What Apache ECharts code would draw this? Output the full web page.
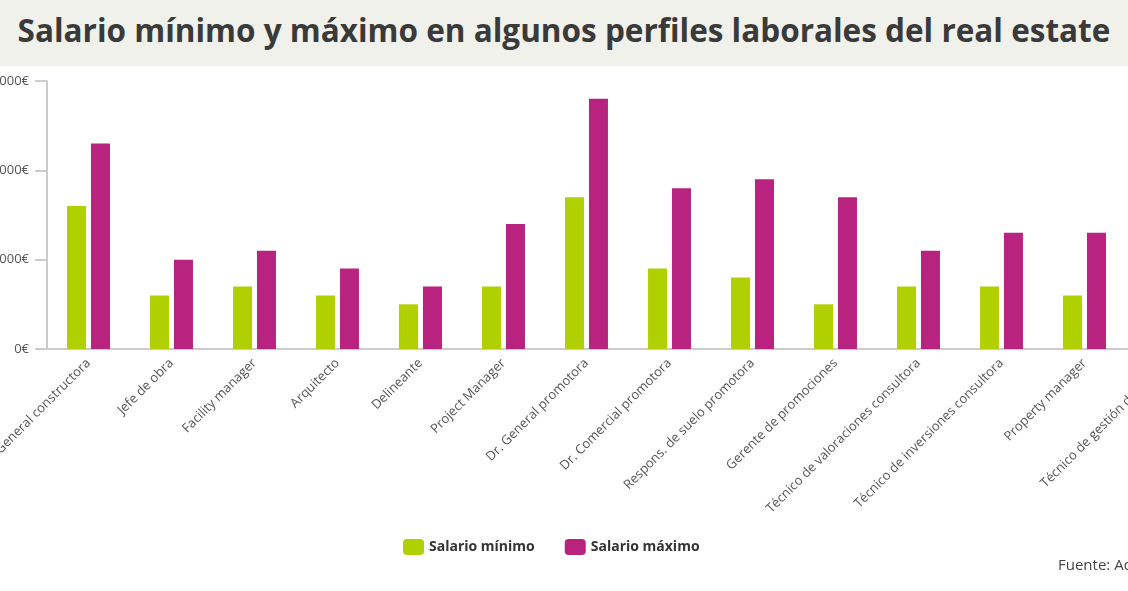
<!DOCTYPE html>
<html>
<head>
<meta charset="utf-8">
<script src="https://cdn.jsdelivr.net/npm/echarts@6/dist/echarts.min.js"></script>
<style>
  body { margin: 0; width: 1128px; height: 591px; overflow: hidden; background: #fff; font-family: "Open Sans", sans-serif; }
  .band { position: absolute; left: 0; top: 0; width: 1128px; height: 66px; background: #f1f1ec;
          font: bold 31.5px "Open Sans", sans-serif; color: #3a3a3a; text-align: center; line-height: 60px; white-space: nowrap; }
  #chart { position: absolute; left: 0; top: 0; width: 1300px; height: 591px; }
</style>
</head>
<body>
<div id="chart"></div>
<div class="band">Salario mínimo y máximo en algunos perfiles laborales del real estate</div>
<script>
// datos
const perfiles = ['Dr. General constructora', 'Jefe de obra', 'Facility manager', 'Arquitecto', 'Delineante',
  'Project Manager', 'Dr. General promotora', 'Dr. Comercial promotora', 'Respons. de suelo promotora',
  'Gerente de promociones', 'Técnico de valoraciones consultora', 'Técnico de inversiones consultora',
  'Property manager', 'Técnico de gestión de activos'];
const salarioMin = [80000, 30000, 35000, 30000, 25000, 35000, 85000, 45000, 40000, 25000, 35000, 35000, 30000, 35000];
const salarioMax = [115000, 50000, 55000, 45000, 35000, 70000, 140000, 90000, 95000, 85000, 55000, 65000, 65000, 60000];
const ticksY = [0, 50000, 100000, 150000];

const fmt = v => v === 0 ? '0€' : v.toLocaleString('de-DE') + '€';

const chart = echarts.init(document.getElementById('chart'));
chart.setOption({
  animation: false,
  textStyle: { fontFamily: 'Open Sans' },
  grid: { left: 47, top: 81, width: 1162, height: 268, outerBoundsMode: 'none', containLabel: false },
  legend: {
    bottom: 31, left: 398, itemWidth: 21, itemHeight: 16, itemGap: 30,
    textStyle: { fontSize: 14, fontWeight: 'bold', color: '#333' },
    data: ['Salario mínimo', 'Salario máximo']
  },
  xAxis: {
    type: 'category', data: perfiles,
    axisLine: { lineStyle: { color: '#ccc', width: 2 } },
    axisTick: { length: 10, lineStyle: { color: '#ccc', width: 2 } },
    axisLabel: { rotate: 45, color: '#555', fontSize: 13, margin: 12 }
  },
  yAxis: {
    type: 'value', min: ticksY[0], max: ticksY[3], interval: 50000,
    splitLine: { show: false },
    axisLine: { show: true, lineStyle: { color: '#ccc', width: 2 } },
    axisTick: { show: true, length: 12, lineStyle: { color: '#ccc', width: 2 } },
    axisLabel: { formatter: fmt, color: '#555', fontSize: 13, margin: 18 }
  },
  graphic: [{ type: 'text', left: 1058, top: 558, style: { text: 'Fuente: Adecco', fontSize: 15, fill: '#444', fontFamily: 'Open Sans' } }],
  series: [
    { name: 'Salario mínimo', type: 'bar', data: salarioMin, barWidth: 19, barGap: '26%', itemStyle: { color: '#b0d000' } },
    { name: 'Salario máximo', type: 'bar', data: salarioMax, barWidth: 19, itemStyle: { color: '#b8237f' } }
  ]
});
</script>
</body>
</html>
